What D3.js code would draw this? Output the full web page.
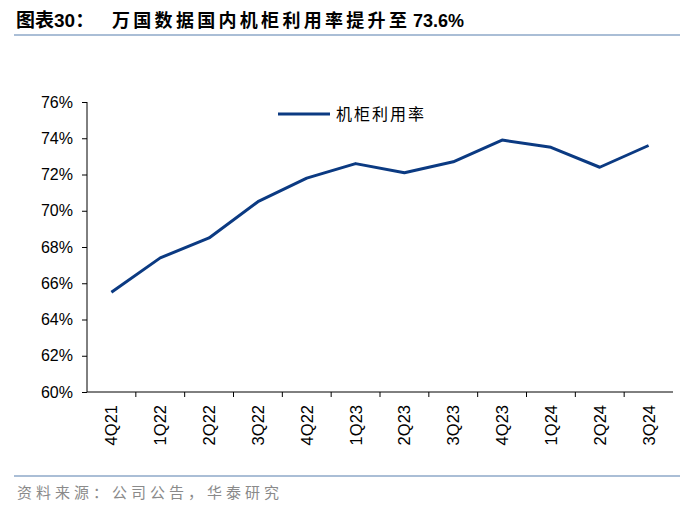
<!DOCTYPE html>
<html>
<head>
<meta charset="utf-8">
<script src="https://cdn.jsdelivr.net/npm/d3@7"></script>
<style>
  body { margin: 0; background: #fff; }
  svg { display: block; }
  .axis text { font-family: "Liberation Sans", Arial, sans-serif; fill: #000; }
  .axis path, .axis line { stroke: #000; }
</style>
</head>
<body>
<div id="chart"></div>
<script>
var quarters = ["4Q21", "1Q22", "2Q22", "3Q22", "4Q22", "1Q23", "2Q23", "3Q23", "4Q23", "1Q24", "2Q24", "3Q24"];
var utilization = [65.5, 67.4, 68.5, 70.5, 71.8, 72.6, 72.1, 72.7, 73.9, 73.5, 72.4, 73.6];
var yTicks = [60, 62, 64, 66, 68, 70, 72, 74, 76];
var seriesName = "机柜利用率";
var titleParts = ["图表30：", "万国数据国内机柜利用率提升至", "73.6%"];
var sourceText = "资料来源：公司公告，华泰研究";

var width = 700, height = 508;
var margin = {top: 102, right: 27, bottom: 116, left: 87};
var w = width - margin.left - margin.right,
    h = height - margin.top - margin.bottom;

var svg = d3.select("#chart").append("svg")
    .attr("width", width)
    .attr("height", height);

// title + rules
var title = svg.append("text")
    .attr("y", 27)
    .style("font-family", "'Liberation Sans', 'Noto Sans CJK SC', sans-serif")
    .style("font-weight", "bold")
    .style("font-size", "18px")
    .attr("fill", "#000");

title.append("tspan").attr("x", 16)
    .style("font-size", "19px")
    .text(titleParts[0]);
title.append("tspan").attr("x", 112)
    .style("letter-spacing", "3.3px")
    .text(titleParts[1]);
title.append("tspan").attr("x", 413).text(titleParts[2]);

svg.append("line")
    .attr("x1", 14).attr("x2", 680)
    .attr("y1", 35).attr("y2", 35)
    .attr("stroke", "#8ea9c9").attr("stroke-width", 1.5);

svg.append("line")
    .attr("x1", 14).attr("x2", 680)
    .attr("y1", 476).attr("y2", 476)
    .attr("stroke", "#8ea9c9").attr("stroke-width", 1.5);

svg.append("text")
    .attr("x", 17)
    .attr("y", 498)
    .style("font-family", "'Noto Sans CJK SC', sans-serif")
    .style("font-size", "15px")
    .style("letter-spacing", "4px")
    .attr("fill", "#8a8a8a")
    .text(sourceText);

var g = svg.append("g")
    .attr("transform", "translate(" + margin.left + "," + margin.top + ")");

var x = d3.scaleBand()
    .domain(quarters)
    .range([0, w]);

var y = d3.scaleLinear()
    .domain([60, 76])
    .range([h, 0]);

var yaxis = g.append("g")
    .attr("class", "axis")
    .call(d3.axisLeft(y)
      .tickValues(yTicks)
      .tickSize(5)
      .tickPadding(9)
      .tickFormat(function (d) { return d + "%"; }));
yaxis.select(".domain").attr("d", "M0,0V" + h);
yaxis.selectAll("text").style("font-size", "16px");

// x axis: ticks at the band edges
var xaxis = g.append("g")
    .attr("class", "axis")
    .attr("transform", "translate(0," + h + ")");

xaxis.append("line")
    .attr("x1", 0).attr("x2", w)
    .attr("y1", 0).attr("y2", 0);

xaxis.selectAll(".tick")
    .data(quarters.slice(1))
    .enter().append("line")
    .attr("class", "tick")
    .attr("x1", function (d) { return x(d); })
    .attr("x2", function (d) { return x(d); })
    .attr("y1", 0).attr("y2", 5);

xaxis.selectAll(".label")
    .data(quarters)
    .enter().append("text")
    .attr("class", "label")
    .attr("transform", function (d) {
      return "translate(" + (x(d) + x.bandwidth() / 2 + 6) + ",13) rotate(-90)";
    })
    .attr("text-anchor", "end")
    .style("font-size", "16.5px")
    .text(function (d) { return d; });

var line = d3.line()
    .x(function (d, i) { return x(quarters[i]) + x.bandwidth() / 2; })
    .y(function (d) { return y(d); });

g.append("path")
    .datum(utilization)
    .attr("fill", "none")
    .attr("stroke", "#0b3a82")
    .attr("stroke-width", 3)
    .attr("stroke-linejoin", "round")
    .attr("d", line);

// legend
var legend = g.append("g")
    .attr("transform", "translate(191,12)");

legend.append("line")
    .attr("x1", 0).attr("x2", 52)
    .attr("y1", 0).attr("y2", 0)
    .attr("stroke", "#0b3a82")
    .attr("stroke-width", 3);

legend.append("text")
    .attr("x", 58)
    .attr("y", 6)
    .style("font-family", "'Noto Sans CJK SC', sans-serif")
    .style("font-size", "16px")
    .style("letter-spacing", "2px")
    .attr("fill", "#000")
    .text(seriesName);
</script>
</body>
</html>
